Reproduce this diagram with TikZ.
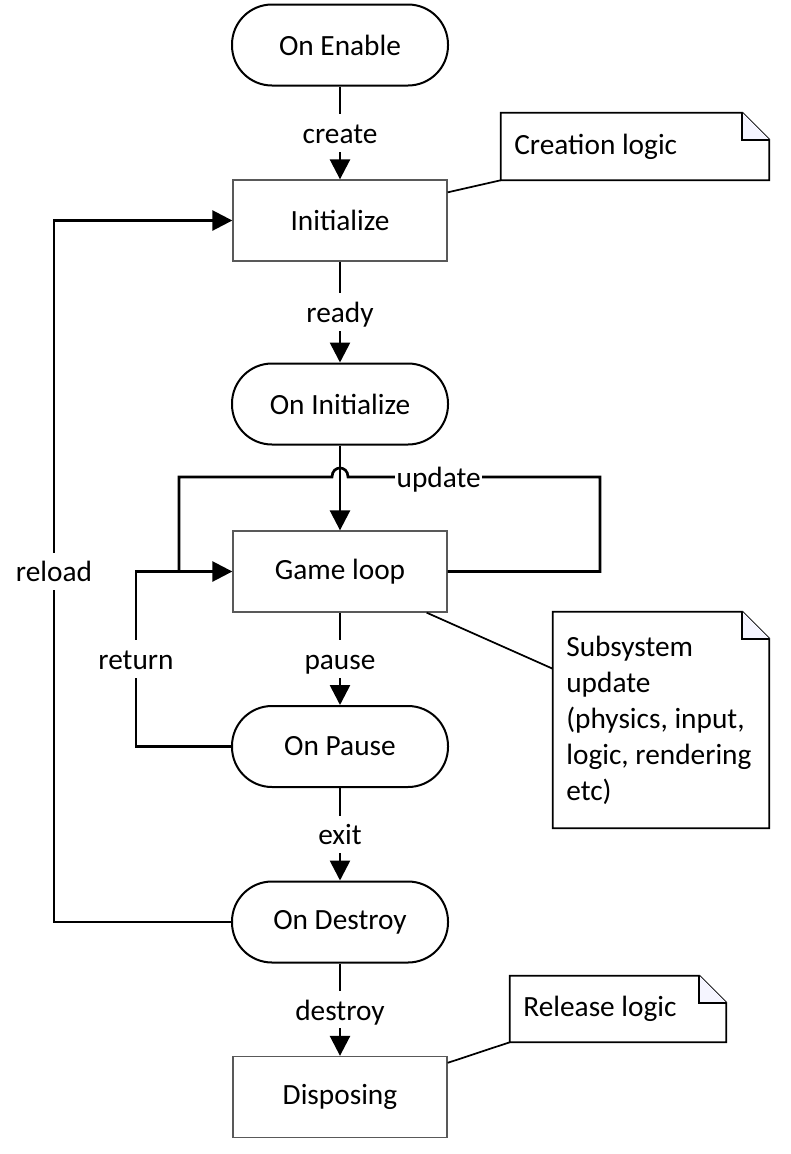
\documentclass[tikz,border=0pt]{standalone}
\usepackage{fontspec}
\setmainfont{Carlito}
\usepackage{tikz}
\usetikzlibrary{arrows.meta}

\tikzset{
  flow/.style={draw=black, line width=2pt, -{Triangle[length=15pt,width=15pt]}},
  plain/.style={draw=black, line width=2pt},
  term/.style={draw=black, line width=1.5pt, rounded corners=30pt,
    minimum width=162pt, minimum height=60.75pt},
  proc/.style={draw=gray!70!black, line width=1pt,
    minimum width=160.5pt, minimum height=60.75pt},
  lbl/.style={fill=white, inner xsep=1pt, inner ysep=3pt,
    text height=19pt, text depth=3pt},
  memo/.style={align=left, inner xsep=10pt, inner ysep=0pt,
    execute at begin node={\spaceskip=0pt\xspaceskip=0pt}},
  memoline/.style={draw=black, line width=1.3pt},
}

% folded corner round a note node
\newcommand{\dogear}[1]{%
  \draw[memoline] (#1.south west) -- (#1.north west)
    -- ([xshift=-\fold]#1.north east) -- ([yshift=-\fold]#1.north east)
    -- (#1.south east) -- cycle;
  \draw[memoline, fill=blue!4] ([xshift=-\fold]#1.north east)
    -- ([xshift=-\fold,yshift=-\fold]#1.north east)
    -- ([yshift=-\fold]#1.north east);
}

\begin{document}
\begin{tikzpicture}[x=0.75pt, y=-0.75pt, font=\fontsize{22}{27}\selectfont]
  \useasboundingbox (0,0) rectangle (790,1154);
  \def\fold{20.25pt}

  % states
  \node[term] (enable)  at (340,45)     {On Enable};
  \node[proc] (init)    at (340,220.5)  {Initialize};
  \node[term] (oninit)  at (340,404)    {On Initialize};
  \node[proc] (game)    at (340,571.5)  {Game loop};
  \node[term] (pause)   at (340,746.5)  {On Pause};
  \node[term] (destroy) at (340,922)    {On Destroy};
  \node[proc] (dispose) at (340,1097)   {Disposing};

  % notes
  \node[memo, text width=181pt, minimum height=50.25pt] (notecreate) at (635,146.5) {Creation logic};
  \node[memo, text width=142pt, minimum height=162pt] (notesub) at (661,720)
    {Subsystem\\update\\(physics, input,\\logic, rendering\\etc)};
  \node[memo, text width=142pt, minimum height=49.5pt] (noterelease) at (618,1009) {Release logic};
  \dogear{notecreate}
  \dogear{notesub}
  \dogear{noterelease}

  \draw[memoline] ([yshift=-9.75pt]init.north east) -- (notecreate.south west);
  \draw[memoline] ([xshift=-15.75pt]game.south east) -- ([yshift=-42.75pt]notesub.north west);
  \draw[memoline] ([yshift=-5.25pt]dispose.north east) -- (noterelease.south west);

  % main flow
  \draw[flow] (enable.south)  -- node[lbl] {create}  (init.north);
  \draw[flow] (init.south)    -- node[lbl] {ready}   (oninit.north);
  \draw[flow] (oninit.south)  -- (game.north);
  \draw[flow] (game.south)    -- node[lbl] {pause}   (pause.north);
  \draw[flow] (pause.south)   -- node[lbl] {exit}    (destroy.north);
  \draw[flow] (destroy.south) -- node[lbl] {destroy} (dispose.north);

  % loops back
  \coordinate (joinup) at (179,571.5);
  \draw[plain] (game.east) -| (600,477) -- node[lbl, pos=0.64] {update} (348,477)
    .. controls (348,465) and (332,465) .. (332,477) -- (179,477) -- (joinup);
  \draw[flow] (pause.west) -| node[lbl, pos=0.75] {return} (136,571.5) -- (game.west);
  \draw[flow] (destroy.west) -| node[lbl, pos=0.75] {reload} (54,220.5) -- (init.west);
\end{tikzpicture}
\end{document}
